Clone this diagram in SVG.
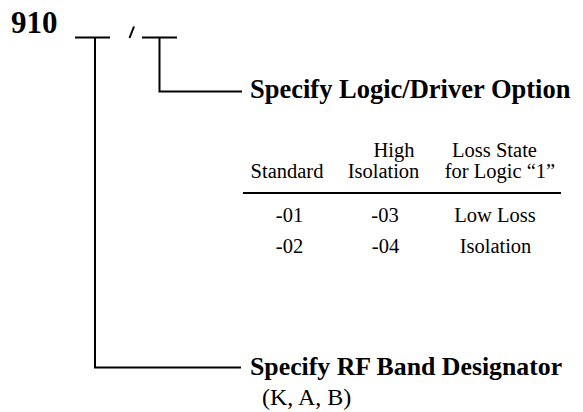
<svg xmlns="http://www.w3.org/2000/svg" width="583" height="412" viewBox="0 0 583 412">
<style>
.ln{fill:none;stroke:#000;stroke-width:2;stroke-linecap:butt;stroke-linejoin:miter}
.b{font-family:"Liberation Serif","Times New Roman",serif;font-weight:bold;font-size:26px;fill:#000}
.r{font-family:"Liberation Serif","Times New Roman",serif;font-size:20.5px;fill:#000;text-anchor:middle}
</style>
<rect width="583" height="412" fill="#fff"/>
<g id="part-number">
<text class="b" x="11" y="33" style="font-size:31px">910</text>
<line class="ln" x1="75" y1="37.5" x2="110" y2="37.5"/>
<line class="ln" x1="129.5" y1="38" x2="134" y2="26.5" stroke-width="3"/>
<line class="ln" x1="142" y1="37.5" x2="177" y2="37.5"/>
</g>
<g id="connectors">
<polyline class="ln" points="95,37.5 95,367.5 241,367.5"/>
<polyline class="ln" points="159.5,37.5 159.5,91.5 242,91.5"/>
</g>
<g id="logic-driver">
<text class="b" x="250" y="98" style="font-size:26.5px">Specify Logic/Driver Option</text>
<g id="table">
<text class="r" x="394" y="157">High</text>
<text class="r" x="494.5" y="157">Loss State</text>
<text class="r" x="287" y="178">Standard</text>
<text class="r" x="383.5" y="178">Isolation</text>
<text class="r" x="500" y="178">for Logic “1”</text>
<line class="ln" x1="243" y1="193" x2="561" y2="193" stroke-width="2.5"/>
<text class="r" x="289.5" y="222">-01</text>
<text class="r" x="385" y="222">-03</text>
<text class="r" x="495" y="222">Low Loss</text>
<text class="r" x="289.5" y="253">-02</text>
<text class="r" x="385.5" y="253">-04</text>
<text class="r" x="495.5" y="253">Isolation</text>
</g>
</g>
<g id="rf-band">
<text class="b" x="250" y="375" style="font-size:25.8px">Specify RF Band Designator</text>
<text class="r" x="262" y="405" style="font-size:24px;text-anchor:start">(K, A, B)</text>
</g>
</svg>
